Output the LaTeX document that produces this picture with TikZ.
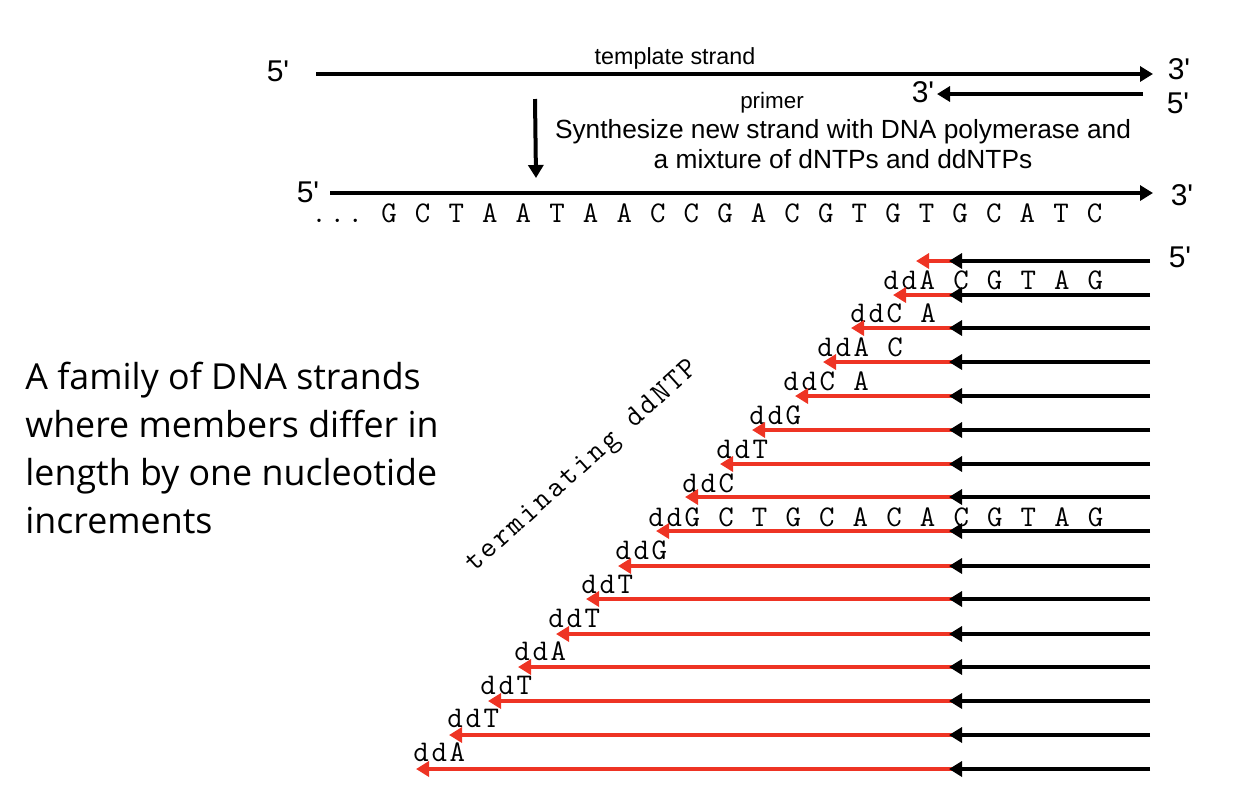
\documentclass[tikz,border=0pt]{standalone}
\usepackage{fontspec}
\setmainfont{Liberation Sans}
\setmonofont{Latin Modern Mono}[LetterSpace=9]
\newfontfamily\famfont{Open Sans}
\usetikzlibrary{arrows.meta}
\definecolor{ddred}{RGB}{238,52,36}
\newcommand{\pr}{\textquotesingle}
\tikzset{
  strand/.style={draw=black, line width=2pt, -{Triangle[length=6.5pt,width=7.5pt]}},
  redstrand/.style={draw=ddred, line width=2pt, -{Triangle[length=6.5pt,width=7.5pt]}},
  endlabel/.style={inner sep=0pt, font=\fontsize{15}{17}\selectfont},
  seqlabel/.style={inner sep=0pt, anchor=base west, font=\ttfamily\fontsize{15}{17}\selectfont},
}
\begin{document}
\begin{tikzpicture}[x=.5pt,y=-.5pt]
\useasboundingbox (0,0) rectangle (1244,800);
\node[endlabel] (tplfive) at (278,71){5\pr};
\node[endlabel] (tplthree) at (1179,69){3\pr};
\node[endlabel] (prithree) at (923,92){3\pr};
\node[endlabel] (prifive) at (1178,103){5\pr};
\node[endlabel] (newfive) at (308,192){5\pr};
\node[endlabel] (newthree) at (1182,195){3\pr};
\node[endlabel] (rowfive) at (1180,257){5\pr};
\coordinate (tpla) at (316,74);
\coordinate (tplb) at (1153,74);
\coordinate (pria) at (1143,94);
\coordinate (prib) at (937,94);
\coordinate (downa) at (535,99);
\coordinate (downb) at (536,178);
\coordinate (newa) at (330,193);
\coordinate (newb) at (1153,193);
\draw[strand](tpla) -- (tplb);
\draw[strand](pria) -- (prib);
\draw[strand](downa) -- (downb);
\draw[strand](newa) -- (newb);
\node[inner sep=0pt, font=\fontsize{11.65}{13}\selectfont] (tpllabel) at (675,58){template strand};
\node[inner sep=0pt, font=\fontsize{11.2}{13}\selectfont] (prilabel) at (772,103){primer};
\node[inner sep=0pt, align=center, font=\fontsize{13.15}{15.2}\selectfont] (synlabel) at (843,144){Synthesize new strand with DNA polymerase and\\a mixture of dNTPs and ddNTPs};
\node[seqlabel] (seq) at (311,222){... G C T A A T A A C C G A C G T G T G C A T C};
\node[inner sep=0pt, align=left, anchor=north west, font=\famfont\fontsize{17.9}{24}\selectfont] (family) at (25,362){A family of DNA strands\\where members differ in\\length by one nucleotide\\increments};
\node[inner sep=0pt, rotate=42, font=\ttfamily\fontsize{15}{17}\selectfont] (termlabel) at (583,467){terminating ddNTP};
\coordinate (rta) at (1150,261);
\coordinate (rma) at (955,261);
\coordinate (rha) at (949,261);
\coordinate (rea) at (916,261);
\draw[redstrand](rma) -- (rea);
\draw[strand](rta) -- (rha);
\node[seqlabel] (lb) at (883,289){ddA C G T A G};
\coordinate (rtb) at (1150,295);
\coordinate (rmb) at (955,295);
\coordinate (rhb) at (949,295);
\coordinate (reb) at (893,295);
\draw[redstrand](rmb) -- (reb);
\draw[strand](rtb) -- (rhb);
\node[seqlabel] (lc) at (850,322){ddC A};
\coordinate (rtc) at (1150,328);
\coordinate (rmc) at (955,328);
\coordinate (rhc) at (949,328);
\coordinate (rec) at (851,328);
\draw[redstrand](rmc) -- (rec);
\draw[strand](rtc) -- (rhc);
\node[seqlabel] (ld) at (817,356){ddA C};
\coordinate (rtd) at (1150,362);
\coordinate (rmd) at (955,362);
\coordinate (rhd) at (949,362);
\coordinate (red) at (823,362);
\draw[redstrand](rmd) -- (red);
\draw[strand](rtd) -- (rhd);
\node[seqlabel] (le) at (783,390){ddC A};
\coordinate (rte) at (1150,396);
\coordinate (rme) at (955,396);
\coordinate (rhe) at (949,396);
\coordinate (ree) at (795,396);
\draw[redstrand](rme) -- (ree);
\draw[strand](rte) -- (rhe);
\node[seqlabel] (lf) at (749,424){ddG};
\coordinate (rtf) at (1150,430);
\coordinate (rmf) at (955,430);
\coordinate (rhf) at (949,430);
\coordinate (ref) at (752,430);
\draw[redstrand](rmf) -- (ref);
\draw[strand](rtf) -- (rhf);
\node[seqlabel] (lg) at (716,458){ddT};
\coordinate (rtg) at (1150,464);
\coordinate (rmg) at (955,464);
\coordinate (rhg) at (949,464);
\coordinate (reg) at (720,464);
\draw[redstrand](rmg) -- (reg);
\draw[strand](rtg) -- (rhg);
\node[seqlabel] (lh) at (682,492){ddC};
\coordinate (rth) at (1150,497);
\coordinate (rmh) at (955,497);
\coordinate (rhh) at (949,497);
\coordinate (reh) at (685,497);
\draw[redstrand](rmh) -- (reh);
\draw[strand](rth) -- (rhh);
\node[seqlabel] (li) at (648,526){ddG C T G C A C A C G T A G};
\coordinate (rti) at (1150,531);
\coordinate (rmi) at (955,531);
\coordinate (rhi) at (949,531);
\coordinate (rei) at (656,531);
\draw[redstrand](rmi) -- (rei);
\draw[strand](rti) -- (rhi);
\node[seqlabel] (lj) at (615,559){ddG};
\coordinate (rtj) at (1150,566);
\coordinate (rmj) at (955,566);
\coordinate (rhj) at (949,566);
\coordinate (rej) at (618,566);
\draw[redstrand](rmj) -- (rej);
\draw[strand](rtj) -- (rhj);
\node[seqlabel] (lk) at (581,593){ddT};
\coordinate (rtk) at (1150,599);
\coordinate (rmk) at (955,599);
\coordinate (rhk) at (949,599);
\coordinate (rek) at (586,599);
\draw[redstrand](rmk) -- (rek);
\draw[strand](rtk) -- (rhk);
\node[seqlabel] (ll) at (548,627){ddT};
\coordinate (rtl) at (1150,634);
\coordinate (rml) at (955,634);
\coordinate (rhl) at (949,634);
\coordinate (rel) at (556,634);
\draw[redstrand](rml) -- (rel);
\draw[strand](rtl) -- (rhl);
\node[seqlabel] (lm) at (514,660){ddA};
\coordinate (rtm) at (1150,667);
\coordinate (rmm) at (955,667);
\coordinate (rhm) at (949,667);
\coordinate (rem) at (518,667);
\draw[redstrand](rmm) -- (rem);
\draw[strand](rtm) -- (rhm);
\node[seqlabel] (ln) at (480,694){ddT};
\coordinate (rtn) at (1150,701);
\coordinate (rmn) at (955,701);
\coordinate (rhn) at (949,701);
\coordinate (ren) at (488,701);
\draw[redstrand](rmn) -- (ren);
\draw[strand](rtn) -- (rhn);
\node[seqlabel] (lo) at (447,727){ddT};
\coordinate (rto) at (1150,735);
\coordinate (rmo) at (955,735);
\coordinate (rho) at (949,735);
\coordinate (reo) at (449,735);
\draw[redstrand](rmo) -- (reo);
\draw[strand](rto) -- (rho);
\node[seqlabel] (lp) at (413,761){ddA};
\coordinate (rtp) at (1150,769);
\coordinate (rmp) at (955,769);
\coordinate (rhp) at (949,769);
\coordinate (rep) at (416,769);
\draw[redstrand](rmp) -- (rep);
\draw[strand](rtp) -- (rhp);
\end{tikzpicture}
\end{document}
